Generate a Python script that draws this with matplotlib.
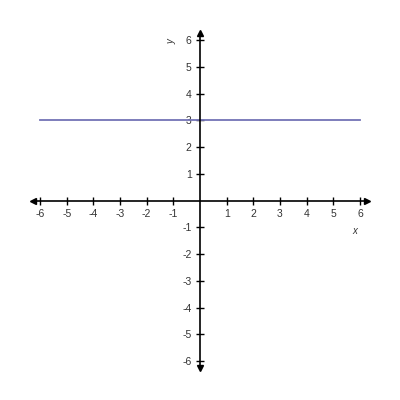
import numpy as np
import matplotlib
matplotlib.use('Agg')
import matplotlib.pyplot as plt

# data
line_x = [-6, 6]
line_y = [3, 3]
x_ticks = [-6, -5, -4, -3, -2, -1, 1, 2, 3, 4, 5, 6]
y_ticks = [-6, -5, -4, -3, -2, -1, 1, 2, 3, 4, 5, 6]

plt.rcParams['font.family'] = ['Liberation Sans', 'DejaVu Sans']
plt.rcParams['axes.unicode_minus'] = False

fig = plt.figure(figsize=(4, 4), dpi=100)
ax = fig.add_axes([0, 0, 1, 1])
ax.set_xlim(-7.5, 7.5)
ax.set_ylim(-7.45, 7.5)

# axes through origin
for s in ['top', 'right']:
    ax.spines[s].set_visible(False)
ax.spines['left'].set_position(('data', 0))
ax.spines['bottom'].set_position(('data', 0))
ax.spines['left'].set_bounds(-6.15, 6.15)
ax.spines['bottom'].set_bounds(-6.15, 6.15)
ax.spines['left'].set_linewidth(1.2)
ax.spines['bottom'].set_linewidth(1.2)

# arrow heads
ms = 5
ax.plot([-6.25], [0], marker='<', color='black', markersize=ms, clip_on=False)
ax.plot([6.25], [0], marker='>', color='black', markersize=ms, clip_on=False)
ax.plot([0], [6.25], marker='^', color='black', markersize=ms, clip_on=False)
ax.plot([0], [-6.25], marker='v', color='black', markersize=ms, clip_on=False)

ax.set_xticks(x_ticks)
ax.set_yticks(y_ticks)
ax.tick_params(direction='inout', length=6, width=1, colors='black',
               labelsize=7.5, labelcolor='#333333')
ax.tick_params(axis='x', pad=3)
ax.tick_params(axis='y', pad=3)

# the line
ax.plot(line_x, line_y, color='#7373b5', linewidth=1.3)

ax.text(5.8, -1.15, 'x', fontsize=7, style='italic', ha='center', va='center', color='#333333')
ax.text(-1.05, 5.93, 'y', fontsize=7, style='italic', rotation=90, ha='center', va='center', color='#333333')

fig.savefig('out.png', dpi=100)
